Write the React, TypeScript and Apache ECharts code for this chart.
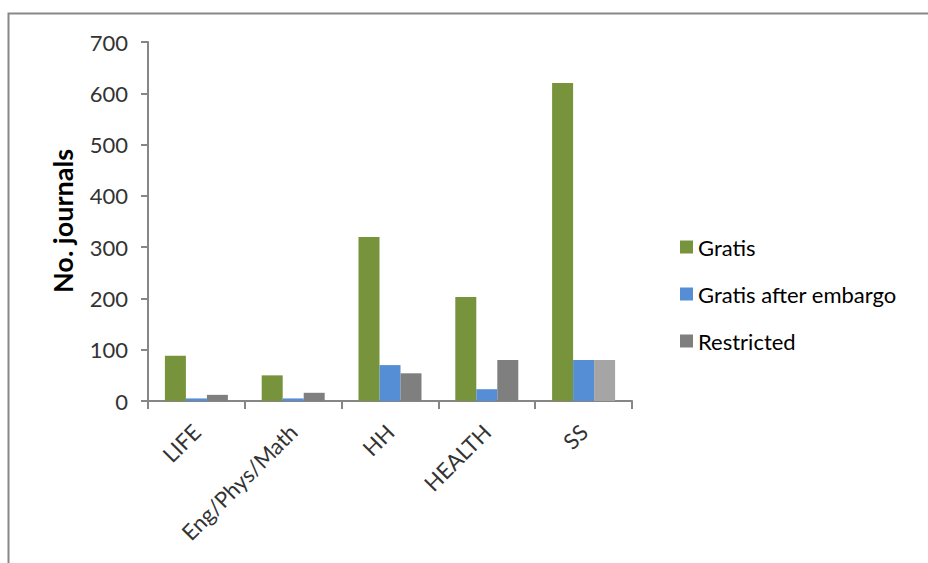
import React, { useEffect, useRef } from "react";
import * as echarts from "echarts";

const categories = ["LIFE", "Eng/Phys/Math", "HH", "HEALTH", "SS"];
const gratis = [88, 50, 320, 203, 620];
const gratisAfterEmbargo = [5, 5, 70, 23, 80];
const restricted = [12, 16, 54, 80, 80];
const yTicks = [0, 700, 100];

const FONT = "Lato, 'Open Sans', sans-serif";

export default function App() {
  const ref = useRef<HTMLDivElement>(null);
  useEffect(() => {
    if (!ref.current) return;
    const chart = echarts.init(ref.current, undefined, { renderer: "svg" });
    const restrictedData = restricted.map((v, i) =>
      i === restricted.length - 1 ? { value: v, itemStyle: { color: "#A5A5A5" } } : v
    );
    chart.setOption({
      animation: false,
      backgroundColor: "#ffffff",
      textStyle: { fontFamily: FONT },
      graphic: [
        {
          type: "rect",
          shape: { x: 8.5, y: 13.5, width: 960, height: 600 },
          style: { fill: "none", stroke: "#888888", lineWidth: 2 },
          silent: true,
        },
        {
          type: "text",
          x: 62,
          y: 221,
          rotation: Math.PI / 2,
          style: {
            text: "No. journals",
            fontSize: 27,
            fontWeight: "bold",
            fontFamily: FONT,
            fill: "#000000",
            align: "center",
            verticalAlign: "middle",
          },
        },
      ],
      grid: { left: 148, right: 296, top: 42, bottom: 162, containLabel: false },
      legend: {
        orient: "vertical",
        left: 675,
        top: 231,
        itemWidth: 13,
        itemHeight: 13,
        itemGap: 25,
        icon: "rect",
        textStyle: { fontSize: 22, fontFamily: FONT, color: "#000", lineHeight: 22 },
        data: ["Gratis", "Gratis after embargo", "Restricted"],
      },
      xAxis: {
        type: "category",
        data: categories,
        axisLine: { lineStyle: { color: "#868686", width: 2 } },
        axisTick: { show: true, length: 8, lineStyle: { color: "#868686", width: 2 } },
        axisLabel: {
          rotate: 45,
          interval: 0,
          margin: 27,
          fontSize: 22,
          fontFamily: FONT,
          color: "#333",
        },
      },
      yAxis: {
        type: "value",
        min: yTicks[0],
        max: yTicks[1],
        interval: yTicks[2],
        axisLine: { show: true, lineStyle: { color: "#868686", width: 2 } },
        axisTick: { show: true, length: 7, lineStyle: { color: "#868686", width: 2 } },
        splitLine: { show: false },
        axisLabel: { margin: 20, fontSize: 22, fontFamily: FONT, color: "#333" },
      },
      series: [
        { name: "Gratis", type: "bar", data: gratis, barWidth: 21, barGap: "0%", itemStyle: { color: "#77933C" } },
        { name: "Gratis after embargo", type: "bar", data: gratisAfterEmbargo, barWidth: 21, barGap: "0%", itemStyle: { color: "#558ED5" } },
        { name: "Restricted", type: "bar", data: restrictedData, barWidth: 21, barGap: "0%", itemStyle: { color: "#7F7F7F" } },
      ],
    });
    return () => chart.dispose();
  }, []);
  return (
    <div
      ref={ref}
      style={{ position: "fixed", left: 0, top: 0, width: 928, height: 563, background: "#fff" }}
    />
  );
}
